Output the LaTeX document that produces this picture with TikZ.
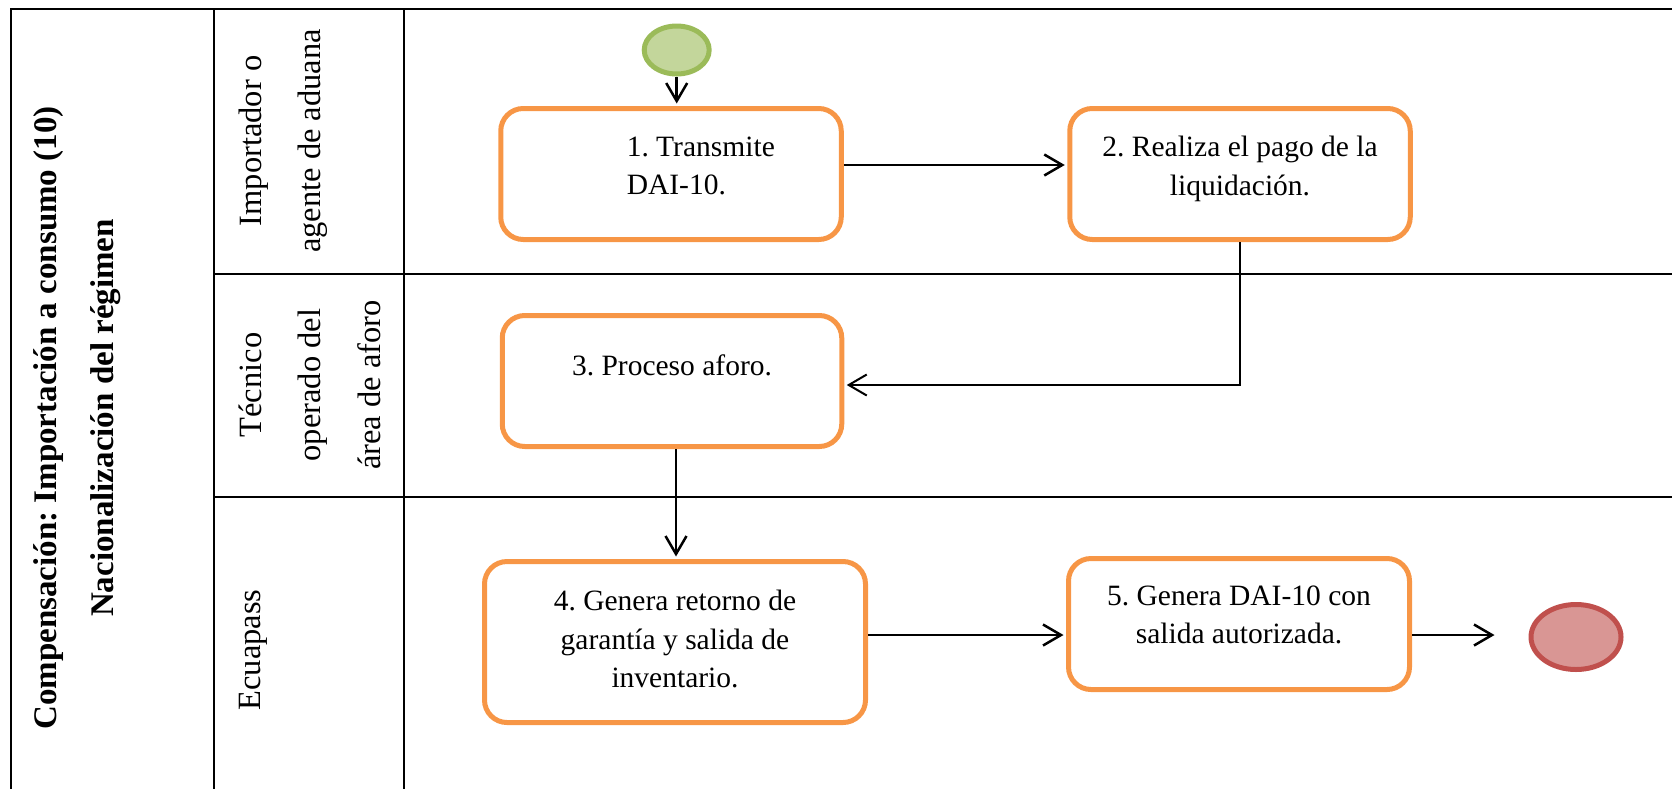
\documentclass[tikz,border=0pt]{standalone}
\usepackage{fontspec}
\setmainfont{Liberation Serif}
\frenchspacing
\usetikzlibrary{shapes.geometric,arrows.meta}
\definecolor{procorange}{HTML}{F79646}
\definecolor{startfill}{HTML}{C3D69B}
\definecolor{startline}{HTML}{9BBB59}
\definecolor{endfill}{HTML}{D99694}
\definecolor{endline}{HTML}{C0504D}
\newcommand{\boxtext}[4]{\parbox[c][#2][t]{#1}{\vspace*{#3}#4\par}}

\begin{document}
\begin{tikzpicture}[x=0.4pt,y=-0.4pt,
  proc/.style={draw=procorange,line width=2pt,rounded corners=9pt,inner sep=0pt,font=\fontsize{11.8}{15.4}\selectfont},
  startev/.style={ellipse,draw=startline,fill=startfill,line width=2pt,minimum width=26pt,minimum height=19.2pt,inner sep=0pt},
  endev/.style={ellipse,draw=endline,fill=endfill,line width=2pt,minimum width=36pt,minimum height=26pt,inner sep=0pt},
  lane/.style={rotate=90,anchor=north,inner sep=0pt,align=center,font=\fontsize{13}{23.8}\selectfont},
  flow/.style={line width=1pt,shorten >=1pt,-{Straight Barb[length=7.2pt,width=8.4pt]}}]
  \useasboundingbox (0,0) rectangle (1672,788);
  % table
  \draw[line width=0.8pt] (11,800) -- (11,9) -- (1680,9);
  \draw[line width=0.8pt] (213.5,9) -- (213.5,800);
  \draw[line width=0.8pt] (404,9) -- (404,800);
  \draw[line width=0.8pt] (213.5,273.5) -- (1680,273.5);
  \draw[line width=0.8pt] (213.5,496.5) -- (1680,496.5);

  \node[lane,font=\fontsize{13.2}{22.8}\selectfont\bfseries] (titulo) at (33,418) {Compensación: Importación a consumo (10)\\Nacionalización del régimen};
  \node[lane] (importador) at (238,141) {Importador o\\agente de aduana};
  \node[lane] (tecnico) at (238,385) {Técnico\\operado del\\área de aforo};
  \node[lane] (ecuapass) at (239,650) {Ecuapass};

  % events and tasks
  \node[startev] (inicio) at (676.7,50) {};
  \node[proc] (transmite) at (671,174) {\boxtext{136.2pt}{52.4pt}{11.2pt}{\leftskip=50.4pt 1. Transmite\\DAI-10.}};
  \node[proc] (pago) at (1240,174) {\boxtext{136.2pt}{52.4pt}{11.2pt}{\centering 2. Realiza el pago de la\\liquidación.}};
  \node[proc] (aforo) at (672,381) {\boxtext{135.8pt}{52.4pt}{15.8pt}{\centering 3. Proceso aforo.}};
  \node[proc] (genera) at (675,642) {\boxtext{152.4pt}{64.4pt}{11.6pt}{\centering 4. Genera retorno de\\garantía y salida de\\inventario.}};
  \node[proc] (salida) at (1239,624) {\boxtext{136.4pt}{52.4pt}{10.8pt}{\centering 5. Genera DAI-10 con\\salida autorizada.}};
  \node[endev] (fin) at (1576,637) {};

  % flow
  \draw[flow] (inicio) -- (inicio |- transmite.north);
  \draw[flow] (transmite.east |- 0,165) -- (pago.west |- 0,165);
  \draw[flow,line width=0.8pt] (pago) |- (aforo.east |- 0,385);
  \draw[flow] (aforo.south -| 676,0) -- (genera.north -| 676,0);
  \draw[flow] (genera.east |- 0,635) -- (salida.west |- 0,635);
  \draw[flow,shorten >=13.6pt] (salida.east |- 0,635) -- (fin.west |- 0,635);
\end{tikzpicture}
\end{document}
